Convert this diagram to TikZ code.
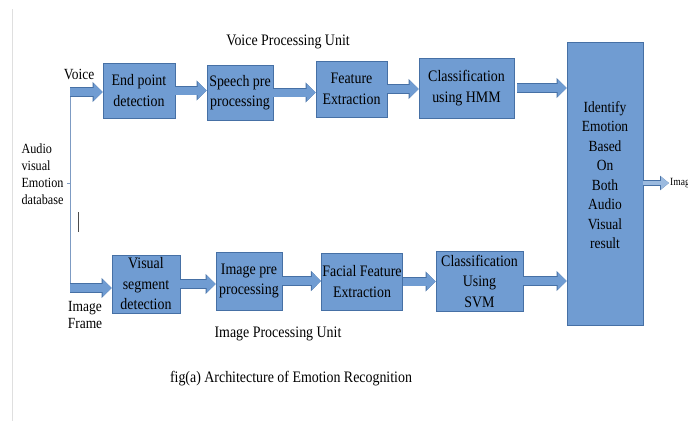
\documentclass[tikz,border=0pt]{standalone}
\usepackage{fontspec}
\setmainfont[FakeStretch=0.87]{Liberation Serif}
\usetikzlibrary{positioning, arrows.meta}

\definecolor{boxblue}{RGB}{112,156,210}
\definecolor{edgeblue}{RGB}{70,112,165}
\definecolor{lineblue}{RGB}{125,155,195}

\tikzset{
    unit/.style={draw=edgeblue, fill=boxblue, thick, align=center, inner sep=1pt,
        font=\fontsize{16}{20.5}\selectfont},
    barrow/.style={line width=8pt, draw=boxblue, -{Triangle[length=9pt, width=17pt]},
        preaction={draw=edgeblue, line width=9.5pt, -{Triangle[length=10pt, width=19.5pt]}}},
    outarrow/.style={line width=4.5pt, draw=boxblue!70, -{Triangle[length=8pt, width=12pt]},
        preaction={draw=edgeblue, line width=6pt, -{Triangle[length=9pt, width=14pt]}}},
    label/.style={font=\fontsize{15.5}{17}\selectfont}
}

\begin{document}
\begin{tikzpicture}[x=1pt, y=-1pt]
            \useasboundingbox (0, 0) rectangle (688, 421);
            \draw[gray!25, line width=1pt] (12.5, 9) -- (12.5, 421);

            % Voice row
            \node (epd) [unit, minimum width=72, minimum height=55] at (139, 90.5) {End point\\detection};
            \node (spp) [unit, minimum width=66, minimum height=55] at (240, 92.5) {Speech pre\\processing};
            \node (fe) [unit, minimum width=71, minimum height=56] at (351.5, 89) {Feature\\Extraction};
            \node (hmm) [unit, minimum width=95, minimum height=60] at (466.5, 88) {Classification\\using HMM};

            % Image row
            \node (vsd) [unit, minimum width=68, minimum height=58] at (146, 284) {Visual\\segment\\detection};
            \node (ipp) [unit, minimum width=66, minimum height=58] at (249, 281) {Image pre\\processing};
            \node (ffe) [unit, minimum width=80, minimum height=57] at (362, 281.5) {Facial Feature\\Extraction};
            \node (svm) [unit, minimum width=87, minimum height=60] at (479.5, 281) {Classification\\Using\\SVM};

            % Fusion block
            \node (fuse) [unit, minimum width=76, minimum height=283] at (605, 183.5) {};
            \node (fusetxt) [align=center, font=\fontsize{15.5}{19.5}\selectfont] at (605, 175) {Identify\\Emotion\\Based\\On\\Both\\Audio\\Visual\\result};

            % Input side
            \node (db) [align=left, anchor=west, font=\fontsize{14}{17}\selectfont] at (18, 174.5) {Audio\\visual\\Emotion\\database};
            \coordinate (split) at (70, 183);
            \coordinate (vin) at (70, 92);
            \coordinate (iin) at (70, 288);
            \node (voice) [label] at (79, 74) {Voice};
            \node (frame) [label, align=center] at (85, 315) {Image\\Frame};
            \draw[lineblue, line width=1pt] (vin) -- (iin);
            \draw[lineblue, line width=0.8pt] (db.east |- split) -- (split);
            \coordinate (cur1) at (78, 212);
            \coordinate (cur2) at (78, 232);
            \draw[black!70, line width=0.8pt] (cur1) -- (cur2);

            % Titles
            \node (vtitle) [font=\fontsize{16}{17}\selectfont] at (288, 42) {Voice Processing Unit};
            \node (ititle) [font=\fontsize{16}{17}\selectfont] at (278, 334) {Image Processing Unit};
            \node (caption) [font=\fontsize{16}{17}\selectfont] at (291, 379) {fig(a) Architecture of Emotion Recognition};

            % Arrows voice row
            \draw[barrow] (vin) -- (vin -| epd.west);
            \draw[barrow] (epd) -- (epd -| spp.west);
            \draw[barrow] (spp) -- (spp -| fe.west);
            \draw[barrow] (fe) -- (fe -| hmm.west);
            \draw[barrow] ([xshift=3pt]hmm.east) -- (hmm -| fuse.west);

            % Arrows image row
            \draw[barrow] (iin) -- (iin -| vsd.west);
            \draw[barrow] (vsd) -- (vsd -| ipp.west);
            \draw[barrow] (ipp) -- (ipp -| ffe.west);
            \draw[barrow] (ffe) -- (ffe -| svm.west);
            \draw[barrow] (svm) -- (svm -| fuse.west);

            % Output
            \coordinate (outend) at (669, 183);
            \draw[outarrow] (fuse.east |- outend) -- (outend);
            \node (outtxt) [anchor=west, inner sep=1pt, font=\fontsize{11}{12}\selectfont] at (outend) {Image};
        \end{tikzpicture}
\end{document}
